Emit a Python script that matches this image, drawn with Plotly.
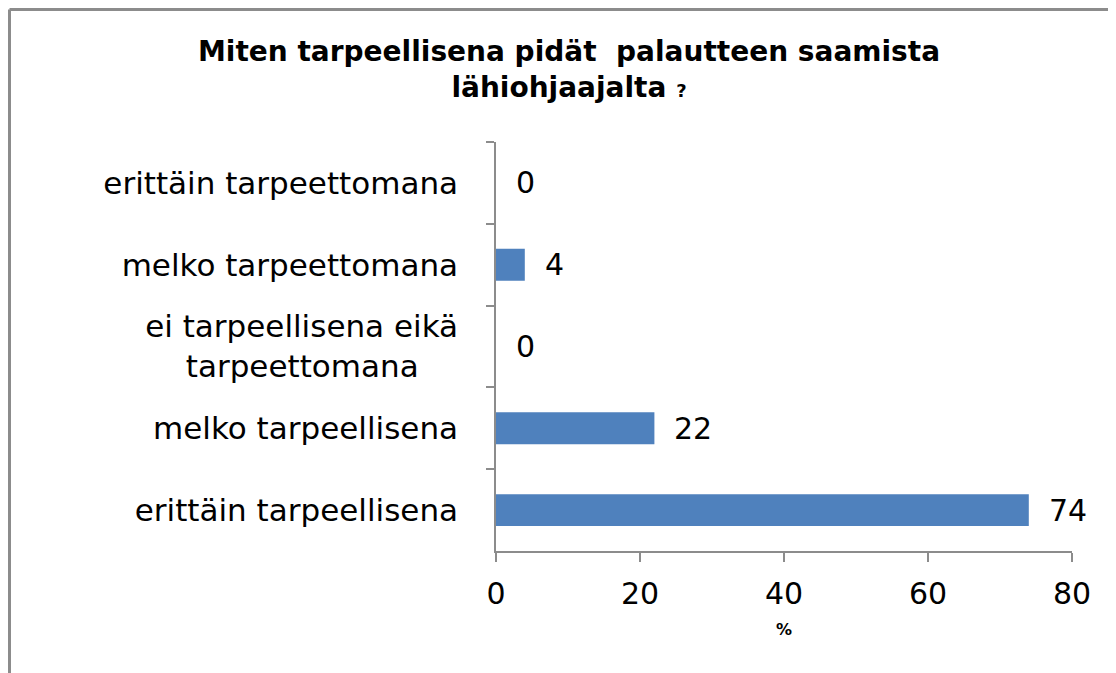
import plotly.graph_objects as go

categories = [
    "erittäin tarpeettomana",
    "melko tarpeettomana",
    "ei tarpeellisena eikä<br>tarpeettomana\u00a0\u00a0\u00a0\u00a0",
    "melko tarpeellisena",
    "erittäin tarpeellisena",
]
values = [0, 4, 0, 22, 74]
x_ticks = [0, 20, 40, 60, 80]

W, H = 1116, 673
OFF = 8  # page body margin
L, R = 496 - OFF, W - (1072 - OFF)
T, B = 142 - OFF, H - (551 - OFF)
pw, ph = W - L - R, H - T - B

def px_to_paper_x(px):
    return (px - OFF - L) / pw

def px_to_paper_y(py):
    return (H - B - (py - OFF)) / ph

FONT = "DejaVu Sans"
GRAY = "#8c8c8c"

fig = go.Figure()
fig.add_trace(go.Bar(
    x=values, y=categories, orientation="h",
    marker=dict(color="#4F81BD", line=dict(width=0)),
    hoverinfo="x+y",
))

for v, c in zip(values, categories):
    fig.add_annotation(
        x=v, y=c, xref="x", yref="y", text=str(v), showarrow=False,
        xanchor="left", yanchor="middle", xshift=18,
        font=dict(family=FONT, size=30, color="#000000"),
    )

fig.update_layout(
    width=W, height=H,
    margin=dict(l=L, r=R, t=T, b=B, autoexpand=False),
    paper_bgcolor="white", plot_bgcolor="white",
    bargap=0.61,
    showlegend=False,
    title=dict(
        text="Miten tarpeellisena pidät  palautteen saamista<br>lähiohjaajalta <span style='font-size:18px'>?</span>",
        font=dict(family=FONT, size=28, color="#000000", weight="bold"),
        xref="container", x=(569 - OFF) / W, xanchor="center",
        yref="container", y=1 - 53 / H, yanchor="top",
    ),
    xaxis=dict(
        range=[0, 80], tickvals=x_ticks, ticktext=[str(t) for t in x_ticks],
        showgrid=False, zeroline=False,
        showline=True, linecolor=GRAY, linewidth=1.5,
        ticks="outside", ticklen=9, tickcolor=GRAY, tickwidth=1.5,
        tickfont=dict(family=FONT, size=30, color="#000000"),
        ticklabelstandoff=6,
        title=dict(text="<b>%</b>", font=dict(family=FONT, size=16, color="#000000"), standoff=14),
    ),
    yaxis=dict(
        autorange="reversed", type="category",
        showgrid=False, zeroline=False,
        showline=True, linecolor=GRAY, linewidth=1.5,
        ticks="outside", tickson="boundaries", ticklen=8, tickcolor=GRAY, tickwidth=1.5,
        tickfont=dict(family=FONT, size=31, color="#000000"),
        ticklabelstandoff=30,
    ),
    shapes=[
        dict(type="line", xref="paper", yref="paper",
             x0=px_to_paper_x(9.5), x1=px_to_paper_x(W + 10),
             y0=px_to_paper_y(9.5), y1=px_to_paper_y(9.5),
             line=dict(color=GRAY, width=3)),
        dict(type="line", xref="paper", yref="paper",
             x0=px_to_paper_x(9.5), x1=px_to_paper_x(9.5),
             y0=px_to_paper_y(9.5), y1=px_to_paper_y(H + 10),
             line=dict(color=GRAY, width=3)),
    ],
)

fig.write_html("out.html")
